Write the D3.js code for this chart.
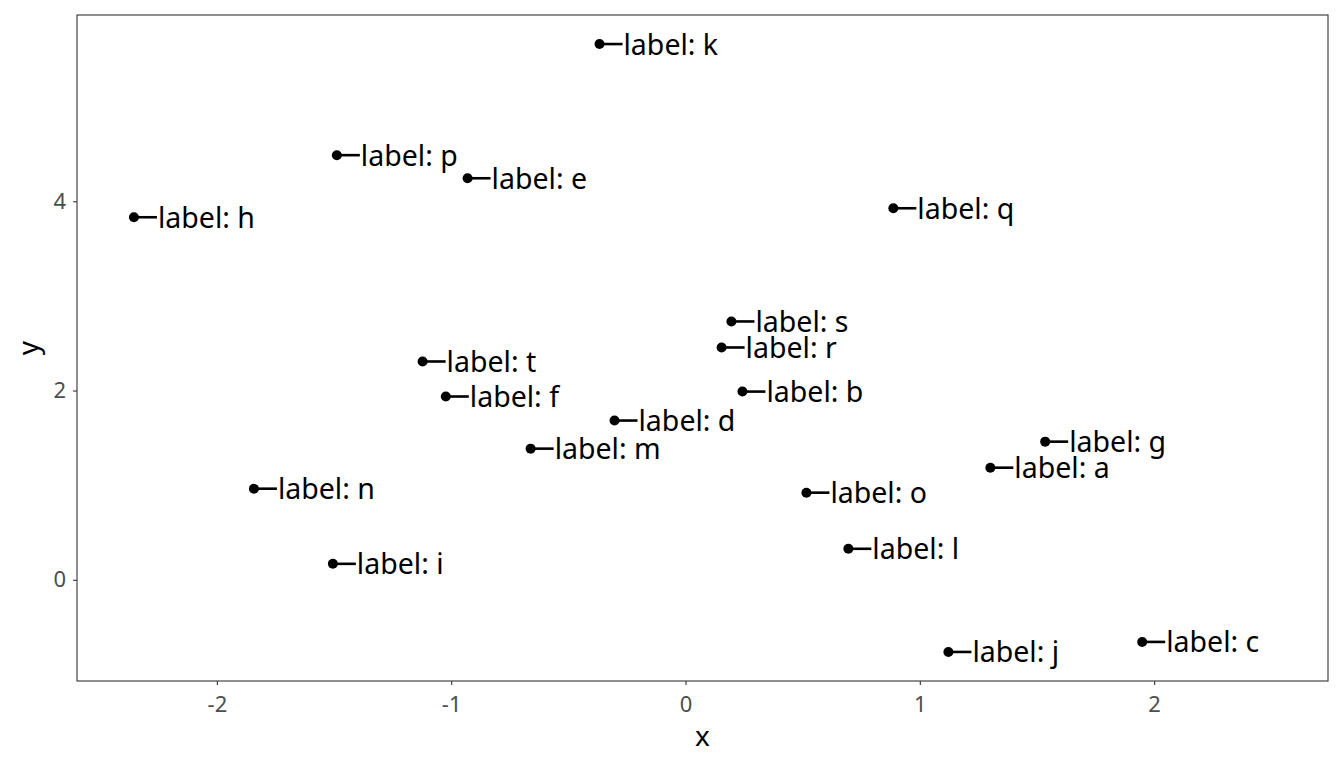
<!DOCTYPE html>
<html>
<head>
<meta charset="utf-8">
<script src="https://cdn.jsdelivr.net/npm/d3@7"></script>
<style>
  body { margin: 0; background: #fff; }
  text { font-family: "Noto Sans", "Open Sans", sans-serif; }
</style>
</head>
<body>
<svg id="chart" width="1344" height="768"></svg>
<script>
// data
var labels = ["a", "b", "c", "d", "e", "f", "g", "h", "i", "j", "k", "l", "m", "n", "o", "p", "q", "r", "s", "t"];
var xs = [1.301, 0.243, 1.949, -0.303, -0.930, -1.023, 1.535, -2.354, -1.505, 1.122, -0.367, 0.695, -0.661, -1.842, 0.516, -1.488, 0.887, 0.154, 0.196, -1.122];
var ys = [1.185, 1.989, -0.656, 1.683, 4.243, 1.937, 1.460, 3.831, 0.169, -0.762, 5.661, 0.328, 1.386, 0.963, 0.921, 4.487, 3.926, 2.455, 2.730, 2.307];
var xTicks = [-2, -1, 0, 1, 2];
var yTicks = [0, 2, 4];

var margin = {top: 15, right: 16, bottom: 87, left: 77};
var w = 1344, h = 768;

var svg = d3.select("#chart");

var x = d3.scaleLinear()
  .domain([-2.597, 2.742])
  .range([margin.left, w - margin.right]);
var y = d3.scaleLinear()
  .domain([-1.069, 5.968])
  .range([h - margin.bottom, margin.top]);

var data = labels.map(function(d, i) { return {label: d, x: xs[i], y: ys[i]}; });

// axes
var xAxis = svg.append("g")
  .attr("transform", "translate(0," + (h - margin.bottom) + ")")
  .call(d3.axisBottom(x).tickValues(xTicks).tickSize(4).tickPadding(11).tickFormat(d3.format("d")));
var yAxis = svg.append("g")
  .attr("transform", "translate(" + margin.left + ",0)")
  .call(d3.axisLeft(y).tickValues(yTicks).tickSize(4).tickPadding(7).tickFormat(d3.format("d")));

[xAxis, yAxis].forEach(function(a) {
  a.select(".domain").remove();
  a.selectAll(".tick line").attr("stroke", "#333").attr("stroke-width", 1.1);
  a.selectAll(".tick text")
    .attr("fill", "#4d4d4d")
    .style("font-size", "22px")
    .text(function(d) { return d < 0 ? "-" + Math.abs(d) : d; });
});

// panel border
svg.append("rect")
  .attr("x", margin.left)
  .attr("y", margin.top)
  .attr("width", w - margin.left - margin.right)
  .attr("height", h - margin.top - margin.bottom)
  .attr("fill", "none")
  .attr("stroke", "#333")
  .attr("stroke-width", 1.1);

// axis titles
svg.append("text")
  .attr("x", (margin.left + w - margin.right) / 2)
  .attr("y", 746)
  .attr("text-anchor", "middle")
  .style("font-size", "28px")
  .text("x");
svg.append("text")
  .attr("transform", "translate(38," + ((margin.top + h - margin.bottom) / 2) + ") rotate(-90)")
  .attr("text-anchor", "middle")
  .style("font-size", "28px")
  .text("y");

// points with labels
var g = svg.append("g").selectAll("g")
  .data(data)
  .enter().append("g")
  .attr("transform", function(d) { return "translate(" + x(d.x) + "," + y(d.y) + ")"; });

g.append("line")
  .attr("x1", 0).attr("x2", 23)
  .attr("y1", 0).attr("y2", 0)
  .attr("stroke", "#000")
  .attr("stroke-width", 2.6);

g.append("circle")
  .attr("r", 5)
  .attr("fill", "#000");

g.append("text")
  .attr("x", 24)
  .attr("y", 10.5)
  .style("font-size", "28.5px")
  .text(function(d) { return "label: " + d.label; });
</script>
</body>
</html>
